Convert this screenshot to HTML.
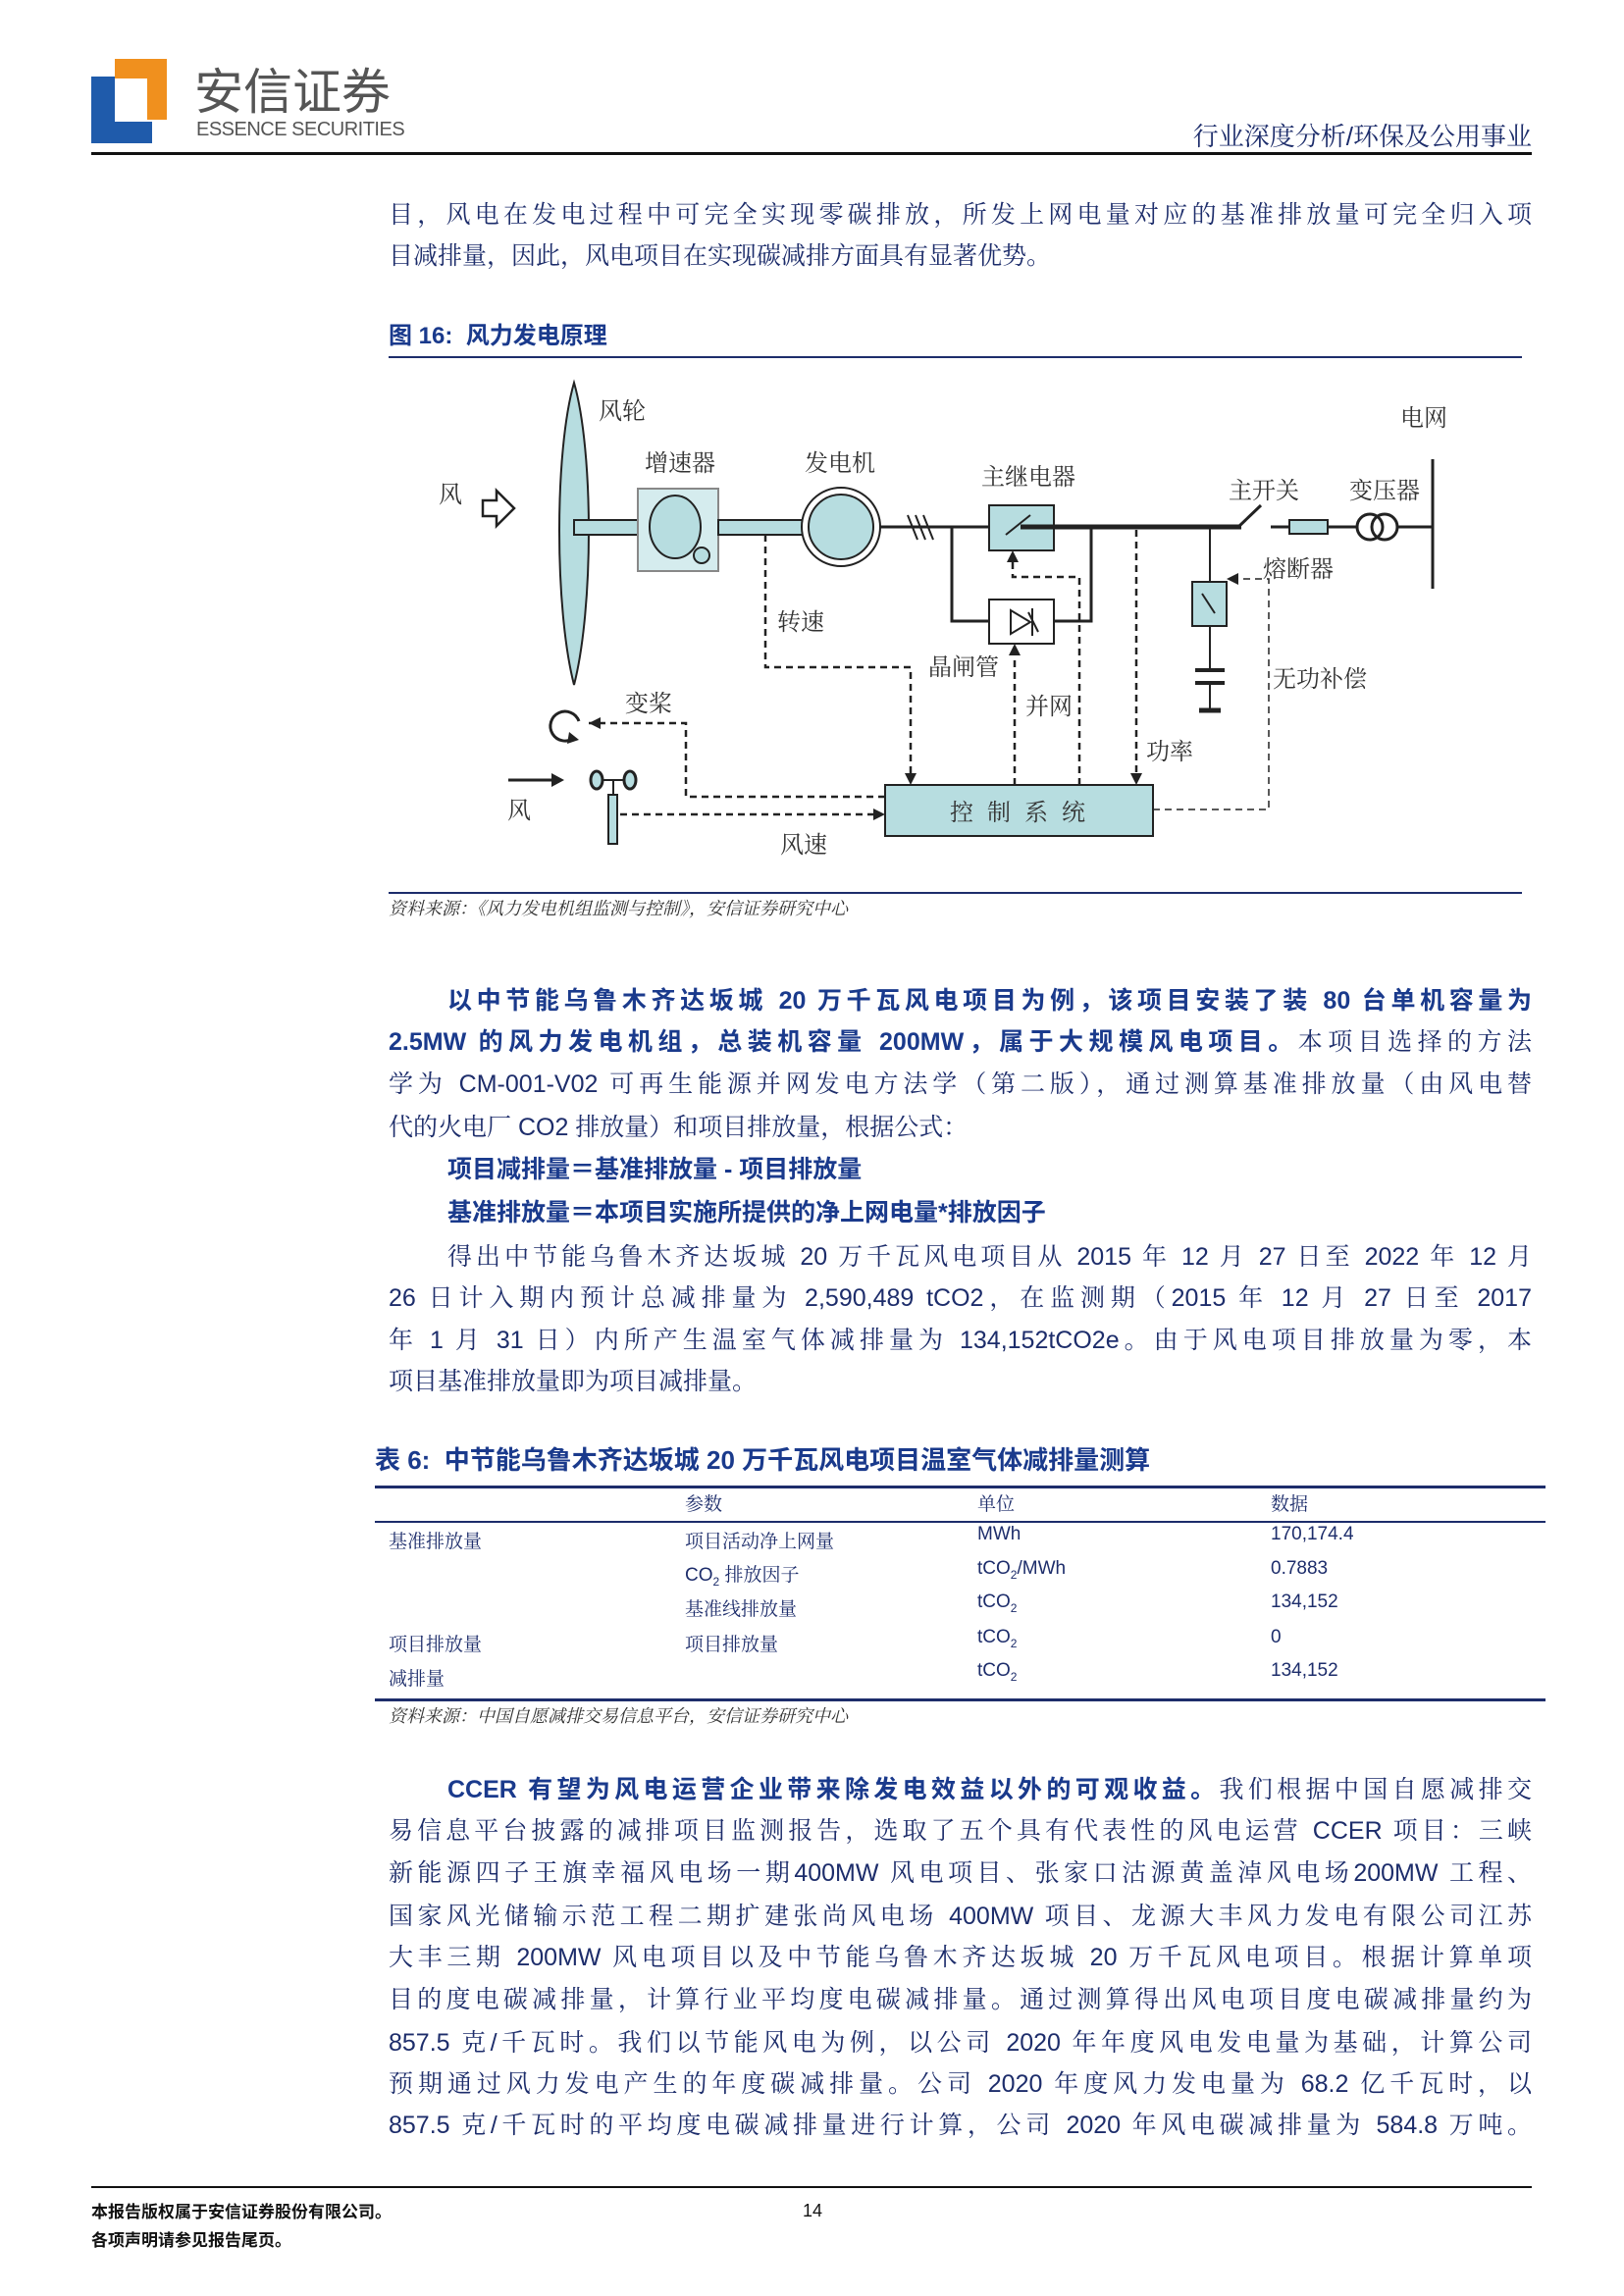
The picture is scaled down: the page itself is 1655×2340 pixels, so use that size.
<!DOCTYPE html>
<html><head><meta charset="utf-8">
<style>
*{margin:0;padding:0}
body{width:1655px;height:2340px;position:relative;background:#fff;font-family:"Liberation Sans","Noto Serif CJK SC",serif;color:#1d2d6b;overflow:hidden}
.a{position:absolute;white-space:nowrap}
.ln{position:absolute;left:396px;width:1165px;font-size:25px;line-height:30px;text-align:justify;text-align-last:justify;white-space:nowrap;font-family:"Liberation Sans","Noto Serif CJK SC",serif}
.nl{text-align-last:left}
b{font-family:"Liberation Sans","Noto Sans CJK SC",sans-serif;font-weight:bold;color:#1a3a8c}
.hr{position:absolute;background:#1d2d6b}
.t{position:absolute;font-size:19px;font-family:"Liberation Sans","Noto Serif CJK SC",serif;color:#1d2d6b;white-space:nowrap}
</style></head><body>
<!-- logo -->
<div class="a" style="left:93px;top:78px;width:24px;height:68px;background:#1f5bab"></div>
<div class="a" style="left:93px;top:124px;width:62px;height:22px;background:#1f5bab"></div>
<div class="a" style="left:117px;top:60px;width:53px;height:20px;background:#f0901e"></div>
<div class="a" style="left:150px;top:60px;width:20px;height:62px;background:#f0901e"></div>
<div class="a" style="left:198px;top:60px;font-size:50px;line-height:60px;color:#555;font-family:'Noto Sans CJK SC',sans-serif">安信证券</div>
<div class="a" style="left:200px;top:120px;font-size:20px;line-height:24px;color:#555;letter-spacing:-0.5px">ESSENCE SECURITIES</div>
<div class="a" style="right:94px;top:124px;font-size:26px;line-height:30px;color:#1d2d6b">行业深度分析/环保及公用事业</div>
<div class="hr" style="left:93px;top:155px;width:1468px;height:3px;background:#111"></div>

<div class="ln" style="top:204px">目，风电在发电过程中可完全实现零碳排放，所发上网电量对应的基准排放量可完全归入项</div>
<div class="ln nl" style="top:246px">目减排量，因此，风电项目在实现碳减排方面具有显著优势。</div>

<div class="a" style="left:396px;top:328px;font-size:24px;line-height:30px"><b>图 16:&nbsp; 风力发电原理</b></div>
<div class="hr" style="left:396px;top:363px;width:1155px;height:2px"></div>

<svg class="a" style="left:0;top:0" width="1655" height="960" viewBox="0 0 1655 960" font-family="Noto Serif CJK SC,serif" font-size="24" fill="#333">
<g stroke="#222" stroke-width="2" fill="#b7dde0">
<path d="M585 390 C605 460 605 620 585 698 C565 620 565 460 585 390 Z"/>
<rect x="585" y="530" width="65" height="15"/>
<rect x="650" y="498" width="82" height="84" fill="#d5ecee" stroke="#888"/>
<ellipse cx="688" cy="537" rx="26" ry="32"/>
<circle cx="715" cy="566" r="8"/>
<rect x="732" y="530" width="86" height="15"/>
<circle cx="857" cy="537" r="40" fill="#fff"/>
<circle cx="857" cy="537" r="33"/>
<rect x="1008" y="515" width="66" height="46"/>
<rect x="1008" y="611" width="66" height="45" fill="#fff"/>
<rect x="1215" y="593" width="35" height="45"/>
<rect x="1314" y="530" width="39" height="14"/>
<rect x="902" y="800" width="273" height="52"/>
<rect x="620" y="810" width="9" height="50"/>
</g>
<g stroke="#222" stroke-width="3" fill="none">
<line x1="897" y1="537" x2="1008" y2="537"/>
<line x1="1040" y1="537" x2="1175" y2="537" stroke-width="5"/>
<line x1="1175" y1="537" x2="1265" y2="537" stroke-width="5"/>
<path d="M1262 537 L1285 515"/>
<line x1="1295" y1="537" x2="1314" y2="537"/>
<line x1="1353" y1="537" x2="1383" y2="537"/>
<circle cx="1396" cy="537" r="13"/><circle cx="1411" cy="537" r="13"/>
<line x1="1424" y1="537" x2="1460" y2="537"/>
<line x1="1460" y1="468" x2="1460" y2="600"/>
<path d="M925 525l10 25M933 525l10 25M941 525l10 25" stroke-width="2"/>
<path d="M1025 545 L1050 525" stroke-width="2"/>
<path d="M970 537 V633 H1008 M1074 633 H1112 V537"/>
<line x1="1233" y1="537" x2="1233" y2="593" stroke-width="2"/>
<line x1="1233" y1="638" x2="1233" y2="683" stroke-width="2"/>
<path d="M1225 605 L1238 625" stroke-width="2"/>
<line x1="1218" y1="683" x2="1248" y2="683" stroke-width="4"/>
<line x1="1218" y1="696" x2="1248" y2="696" stroke-width="4"/>
<line x1="1233" y1="696" x2="1233" y2="724" stroke-width="2"/>
<line x1="1222" y1="724" x2="1244" y2="724" stroke-width="5"/>
<path d="M1030 622 L1030 646 L1050 634 Z M1052 620 V648 M1048 624 L1058 644" stroke-width="2"/>
<path d="M585 752 A15 15 0 1 1 590 735" stroke-width="3"/>
<line x1="518" y1="795" x2="562" y2="795"/>
<line x1="608" y1="795" x2="642" y2="795" stroke-width="2"/>
<ellipse cx="608" cy="795" rx="6" ry="9" fill="#b7dde0"/><ellipse cx="642" cy="795" rx="6" ry="9" fill="#b7dde0"/>
<line x1="625" y1="795" x2="625" y2="810" stroke-width="2"/>
</g>
<path d="M580 746 L590 754 L578 758 Z" fill="#222"/>
<path d="M562 788 L575 795 L562 802 Z" fill="#222"/>
<path d="M492 510 h14 v-10 l18 18 l-18 18 v-10 h-14 Z" fill="#fff" stroke="#222" stroke-width="2.5"/>
<g stroke="#222" stroke-width="2.5" fill="none" stroke-dasharray="7 5">
<path d="M780 545 V680 H928 V795"/>
<path d="M902 812 H699 V737 H600"/>
<path d="M632 830 H895"/>
<path d="M1034 800 V663"/>
<path d="M1100 800 V588 H1032 V568"/>
<path d="M1158 540 V795"/>
<path d="M1175 825 H1293 V590 H1258" stroke-width="1.5"/>
</g>
<g fill="#222">
<path d="M922 788 L928 800 L934 788 Z"/>
<path d="M1152 788 L1158 800 L1164 788 Z"/>
<path d="M1028 668 L1034 656 L1040 668 Z"/>
<path d="M1026 573 L1032 561 L1038 573 Z"/>
<path d="M612 731 L600 737 L612 743 Z"/>
<path d="M890 824 L902 830 L890 836 Z"/>
<path d="M1262 584 L1250 590 L1262 596 Z"/>
</g>
<text x="610" y="427">风轮</text><text x="657" y="480">增速器</text><text x="820" y="480">发电机</text>
<text x="1000" y="494">主继电器</text><text x="1252" y="508">主开关</text><text x="1375" y="508">变压器</text>
<text x="1427" y="434">电网</text><text x="1287" y="588">熔断器</text><text x="792" y="642">转速</text>
<text x="946" y="688">晶闸管</text><text x="1297" y="700">无功补偿</text><text x="637" y="725">变桨</text>
<text x="1045" y="728">并网</text><text x="1168" y="774">功率</text><text x="447" y="512">风</text>
<text x="517" y="834">风</text><text x="795" y="869">风速</text>
<text x="968" y="836" letter-spacing="14">控制系统</text>
</svg>

<div class="hr" style="left:396px;top:909px;width:1155px;height:2px"></div>
<div class="a" style="left:396px;top:914px;font-size:18px;line-height:24px;font-style:italic;color:#333">资料来源：《风力发电机组监测与控制》，安信证券研究中心</div>

<div class="ln" style="top:1005px;left:456px;width:1105px"><b>以中节能乌鲁木齐达坂城 20 万千瓦风电项目为例，该项目安装了装 80 台单机容量为</b></div>
<div class="ln" style="top:1047px"><b>2.5MW 的风力发电机组，总装机容量 200MW，属于大规模风电项目。</b>本项目选择的方法</div>
<div class="ln" style="top:1090px">学为 CM-001-V02 可再生能源并网发电方法学（第二版），通过测算基准排放量（由风电替</div>
<div class="ln nl" style="top:1134px">代的火电厂 CO2 排放量）和项目排放量，根据公式：</div>
<div class="ln nl" style="top:1177px;left:456px"><b>项目减排量＝基准排放量 - 项目排放量</b></div>
<div class="ln nl" style="top:1221px;left:456px"><b>基准排放量＝本项目实施所提供的净上网电量*排放因子</b></div>
<div class="ln" style="top:1266px;left:456px;width:1105px">得出中节能乌鲁木齐达坂城 20 万千瓦风电项目从 2015 年 12 月 27 日至 2022 年 12 月</div>
<div class="ln" style="top:1308px">26 日计入期内预计总减排量为 2,590,489 tCO2，在监测期（2015 年 12 月 27 日至 2017</div>
<div class="ln" style="top:1351px">年 1 月 31 日）内所产生温室气体减排量为 134,152tCO2e。由于风电项目排放量为零，本</div>
<div class="ln nl" style="top:1393px">项目基准排放量即为项目减排量。</div>

<div class="a" style="left:382px;top:1472px;font-size:26px;line-height:32px"><b>表 6:&nbsp; 中节能乌鲁木齐达坂城 20 万千瓦风电项目温室气体减排量测算</b></div>
<div class="hr" style="left:382px;top:1514px;width:1193px;height:3px"></div>
<div class="t" style="left:698px;top:1518px">参数</div><div class="t" style="left:996px;top:1518px">单位</div><div class="t" style="left:1295px;top:1518px">数据</div>
<div class="hr" style="left:382px;top:1550px;width:1193px;height:2px"></div>
<div class="t" style="left:396px;top:1556px">基准排放量</div><div class="t" style="left:698px;top:1556px">项目活动净上网量</div><div class="t" style="left:996px;top:1553px">MWh</div><div class="t" style="left:1295px;top:1553px">170,174.4</div>
<div class="t" style="left:698px;top:1590px">CO<sub style="font-size:12px">2</sub> 排放因子</div><div class="t" style="left:996px;top:1588px">tCO<sub style="font-size:12px">2</sub>/MWh</div><div class="t" style="left:1295px;top:1588px">0.7883</div>
<div class="t" style="left:698px;top:1625px">基准线排放量</div><div class="t" style="left:996px;top:1622px">tCO<sub style="font-size:12px">2</sub></div><div class="t" style="left:1295px;top:1622px">134,152</div>
<div class="t" style="left:396px;top:1661px">项目排放量</div><div class="t" style="left:698px;top:1661px">项目排放量</div><div class="t" style="left:996px;top:1658px">tCO<sub style="font-size:12px">2</sub></div><div class="t" style="left:1295px;top:1658px">0</div>
<div class="t" style="left:396px;top:1696px">减排量</div><div class="t" style="left:996px;top:1692px">tCO<sub style="font-size:12px">2</sub></div><div class="t" style="left:1295px;top:1692px">134,152</div>
<div class="hr" style="left:382px;top:1731px;width:1193px;height:3px"></div>
<div class="a" style="left:396px;top:1737px;font-size:18px;line-height:24px;font-style:italic;color:#333">资料来源：中国自愿减排交易信息平台，安信证券研究中心</div>

<div class="ln" style="top:1809px;left:456px;width:1105px"><b>CCER 有望为风电运营企业带来除发电效益以外的可观收益。</b>我们根据中国自愿减排交</div>
<div class="ln" style="top:1851px">易信息平台披露的减排项目监测报告，选取了五个具有代表性的风电运营 CCER 项目：三峡</div>
<div class="ln" style="top:1894px">新能源四子王旗幸福风电场一期400MW 风电项目、张家口沽源黄盖淖风电场200MW 工程、</div>
<div class="ln" style="top:1938px">国家风光储输示范工程二期扩建张尚风电场 400MW 项目、龙源大丰风力发电有限公司江苏</div>
<div class="ln" style="top:1980px">大丰三期 200MW 风电项目以及中节能乌鲁木齐达坂城 20 万千瓦风电项目。根据计算单项</div>
<div class="ln" style="top:2023px">目的度电碳减排量，计算行业平均度电碳减排量。通过测算得出风电项目度电碳减排量约为</div>
<div class="ln" style="top:2067px">857.5 克/千瓦时。我们以节能风电为例，以公司 2020 年年度风电发电量为基础，计算公司</div>
<div class="ln" style="top:2109px">预期通过风力发电产生的年度碳减排量。公司 2020 年度风力发电量为 68.2 亿千瓦时，以</div>
<div class="ln" style="top:2151px">857.5 克/千瓦时的平均度电碳减排量进行计算，公司 2020 年风电碳减排量为 584.8 万吨。</div>

<div class="hr" style="left:93px;top:2228px;width:1468px;height:2px;background:#111"></div>
<div class="a" style="left:93px;top:2241px;font-size:17px;line-height:24px;font-weight:bold;color:#111;font-family:'Noto Sans CJK SC',sans-serif">本报告版权属于安信证券股份有限公司。</div>
<div class="a" style="left:93px;top:2270px;font-size:17px;line-height:24px;font-weight:bold;color:#111;font-family:'Noto Sans CJK SC',sans-serif">各项声明请参见报告尾页。</div>
<div class="a" style="left:818px;top:2241px;font-size:18px;line-height:24px;color:#111">14</div>
</body></html>
